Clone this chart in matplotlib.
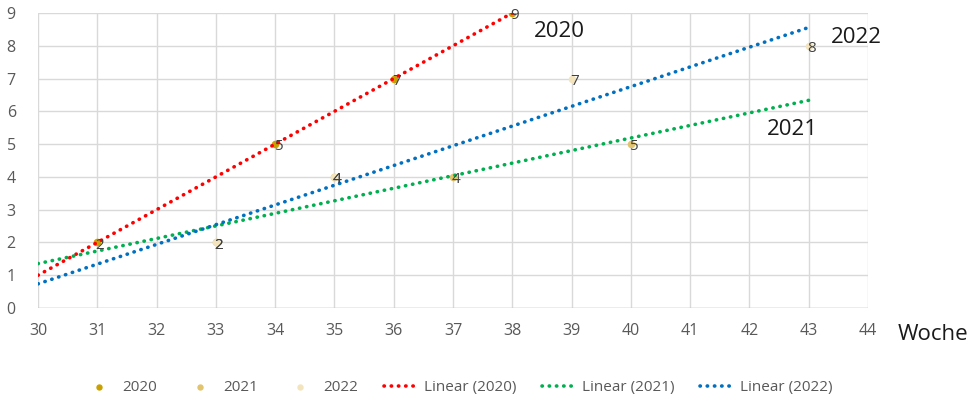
import numpy as np
import matplotlib
matplotlib.use("Agg")
import matplotlib.pyplot as plt

plt.rcParams['font.family'] = ['Open Sans', 'DejaVu Sans']

# Weekly values per year
weeks_2020 = [31, 34, 36, 38]
vals_2020 = [2, 5, 7, 9]
weeks_2021 = [33, 35, 37, 40]
vals_2021 = [2, 4, 4, 5]
weeks_2022 = [33, 35, 39, 43]
vals_2022 = [2, 4, 7, 8]

series = [
    ("2020", weeks_2020, vals_2020, "#C9A000", "#FF0000", 1, 0),
    ("2021", weeks_2021, vals_2021, "#E2C46E", "#00B050", 3, 3),
    ("2022", weeks_2022, vals_2022, "#F3E4BE", "#0070C0", 3, 0),
]

fig = plt.figure(figsize=(9.8, 4.04), dpi=100)
ax = fig.add_axes([0.0388, 0.2376, 0.8469, 0.7302])

ax.set_xlim(30, 44)
ax.set_ylim(0, 9)
ax.set_xticks(range(30, 45))
ax.set_yticks(range(0, 10))
ax.grid(True, color="#D9D9D9", linewidth=1)
ax.set_axisbelow(True)
for s in ax.spines.values():
    s.set_visible(False)
ax.axhline(0, color="#BFBFBF", linewidth=1, zorder=1)
ax.tick_params(axis="both", length=0, labelsize=11.5, colors="#595959")
ax.tick_params(axis="x", pad=11)
ax.tick_params(axis="y", pad=16)

scatter_handles = []
line_handles = []
for name, xs, ys, mcol, lcol, back, fwd in series:
    h = ax.scatter(xs, ys, s=20, color=mcol, zorder=3, label=name)
    scatter_handles.append(h)
    for x, y in zip(xs, ys):
        ax.annotate(str(y), (x, y), xytext=(2, -2), textcoords="offset points",
                    ha="center", va="center", fontsize=11, color="#404040", zorder=5)
    k, b = np.polyfit(xs, ys, 1)
    tx = np.array([min(xs) - back, max(xs) + fwd])
    tx = np.clip(tx, 30, 44)
    ln, = ax.plot(tx, k * tx + b, color=lcol, linewidth=2.6,
                  linestyle=(0, (0.1, 1.9)), dash_capstyle="round",
                  zorder=4, label=f"Linear ({name})")
    line_handles.append(ln)

ax.text(38.8, 8.45, "2020", fontsize=16, color="#1A1A1A", ha="center", va="center")
ax.text(42.73, 5.46, "2021", fontsize=16, color="#1A1A1A", ha="center", va="center")
ax.text(43.8, 8.26, "2022", fontsize=16, color="#1A1A1A", ha="center", va="center",
        clip_on=False)

fig.text(0.952, 0.171, "Woche", fontsize=16, color="#1A1A1A", ha="center", va="center")

leg = fig.legend(handles=scatter_handles + line_handles, loc="center",
                 bbox_to_anchor=(0.467, 0.04), ncol=6, frameon=False,
                 fontsize=11, labelcolor="#595959", columnspacing=1.7,
                 handlelength=2.2, handletextpad=0.4, markerscale=0.8)

fig.savefig("out.png", dpi=100)
